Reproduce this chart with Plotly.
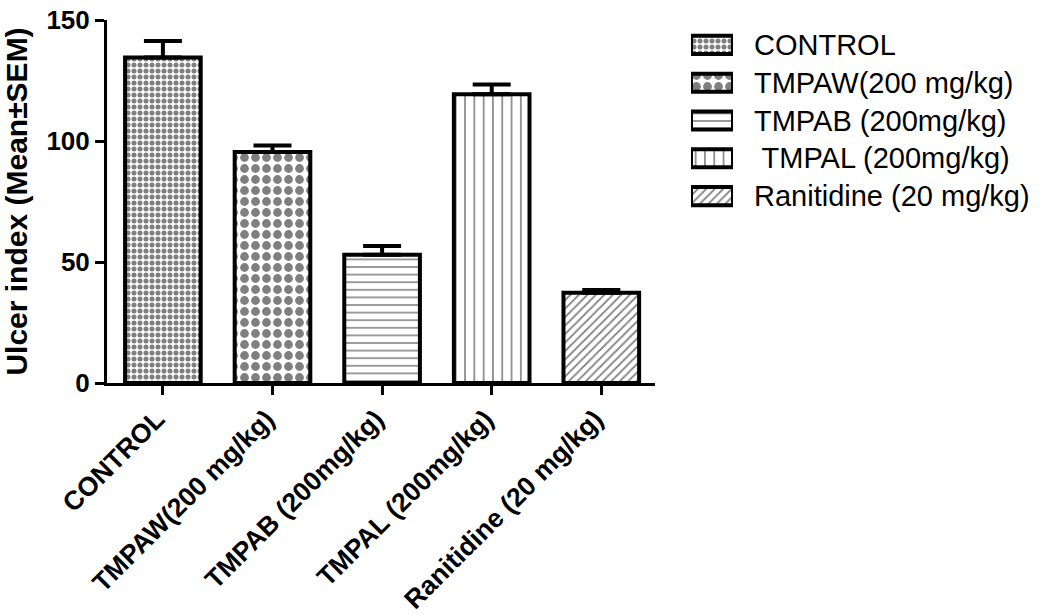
import plotly.graph_objects as go

categories = ["CONTROL", "TMPAW(200 mg/kg)", "TMPAB (200mg/kg)", "TMPAL (200mg/kg)", "Ranitidine (20 mg/kg)"]
legend_names = ["CONTROL", "TMPAW(200 mg/kg)", "TMPAB (200mg/kg)", " TMPAL (200mg/kg)", "Ranitidine (20 mg/kg)"]
means = [134.5, 95.5, 53.0, 119.3, 37.3]
sems = [6.8, 2.6, 3.6, 4.0, 1.1]
y_ticks = [0, 50, 100, 150]
swatch_len = [1, 1, 1, 1, 1]

patterns = [
    dict(shape=".", size=6, solidity=0.55, fgcolor="black", bgcolor="white"),
    dict(shape=".", size=11, solidity=0.5, fgcolor="black", bgcolor="white"),
    dict(shape="-", size=7.6, solidity=0.2, fgcolor="black", bgcolor="white"),
    dict(shape="|", size=9.3, solidity=0.17, fgcolor="black", bgcolor="white"),
    dict(shape="/", size=6, solidity=0.3, fgcolor="black", bgcolor="white"),
]

font_family = "Liberation Sans, Arial, sans-serif"
W, H = 1041, 615
ML, MR, MT, MB = 107, 11, 20, 232
PW = W - ML - MR
PH = H - MT - MB


def px_x(p):
    return (p - ML) / PW


def px_y(p):
    return 1 - (p - MT) / PH


fig = go.Figure()
for i, cat in enumerate(categories):
    fig.add_trace(go.Bar(
        x=[cat], y=[means[i]], name=legend_names[i],
        marker=dict(color="white", line=dict(color="black", width=4), pattern=patterns[i]),
        error_y=dict(type="data", array=[sems[i]], arrayminus=[0], symmetric=False,
                     color="black", thickness=4, width=19),
        width=0.69, showlegend=False, xaxis="x", yaxis="y",
    ))

# legend built as a small horizontal-bar panel
for i, name in enumerate(legend_names):
    fig.add_trace(go.Bar(
        x=[swatch_len[i]], y=[name], orientation="h",
        marker=dict(color="white", line=dict(color="black", width=4), pattern=patterns[i]),
        width=0.48, showlegend=False, xaxis="x2", yaxis="y2", hoverinfo="skip",
    ))

fig.update_layout(
    width=W, height=H,
    margin=dict(l=ML, r=MR, t=MT, b=MB, autoexpand=False),
    paper_bgcolor="white", plot_bgcolor="white",
    barmode="overlay",
    showlegend=False,
    font=dict(family=font_family, color="black"),
    xaxis=dict(
        domain=[0, px_x(655)], anchor="y",
        type="category", categoryorder="array", categoryarray=categories,
        range=[-0.51, 4.49], showline=True, linecolor="black", linewidth=3,
        ticks="outside", ticklen=9, tickwidth=3, tickcolor="black",
        tickangle=-45, ticklabelshift=-6, ticklabelstandoff=-2,
        tickfont=dict(family=font_family, size=26.5, color="black", weight="bold"),
        showgrid=False, zeroline=False,
    ),
    yaxis=dict(
        domain=[0, 1], anchor="x",
        range=[0, 150], tickvals=y_ticks, showline=True, linecolor="black", linewidth=3,
        ticks="outside", ticklen=9, tickwidth=3, tickcolor="black",
        tickfont=dict(family=font_family, size=26, color="black", weight="bold"),
        title=dict(text="Ulcer index (Mean±SEM)", standoff=11,
                   font=dict(family=font_family, size=30, color="black", weight="bold")),
        showgrid=False, zeroline=False,
    ),
    xaxis2=dict(
        domain=[px_x(691), px_x(733)], anchor="y2", range=[0, 1],
        visible=False, fixedrange=True,
    ),
    yaxis2=dict(
        domain=[px_y(215), px_y(26)], anchor="x2", side="right",
        type="category", categoryorder="array", categoryarray=legend_names[::-1],
        showline=False, showgrid=False, zeroline=False, ticks="",
        ticklabelstandoff=20,
        tickfont=dict(family=font_family, size=29, color="black"),
        fixedrange=True,
    ),
)

fig.write_html("out.html", config={"displayModeBar": False},
               post_script="document.body.style.margin='0px';")
